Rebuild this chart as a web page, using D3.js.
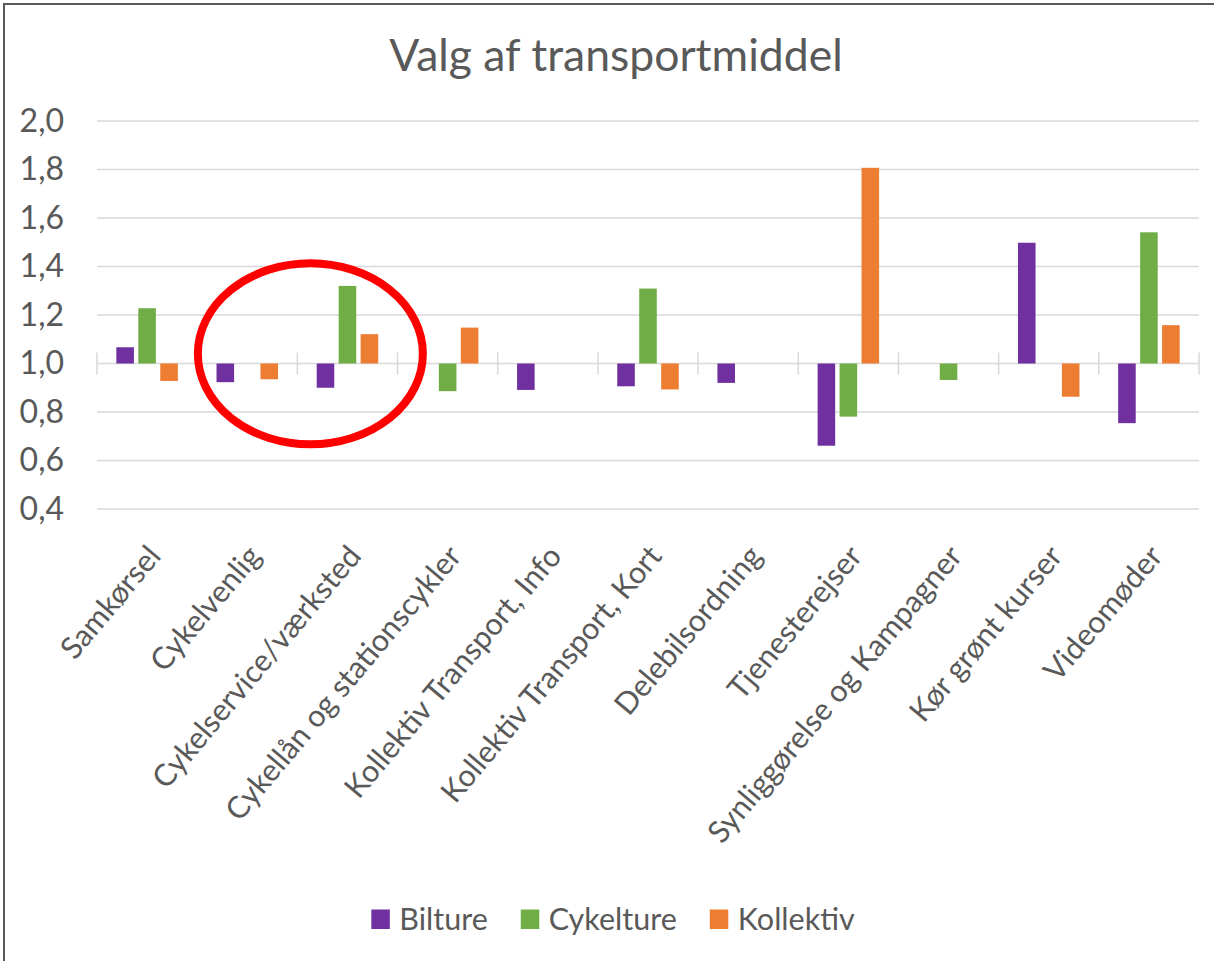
<!DOCTYPE html>
<html>
<head>
<meta charset="utf-8">
<script src="https://cdn.jsdelivr.net/npm/d3@7"></script>
<style>
  body { margin: 0; background: #fff; }
  text { font-family: Lato, "Open Sans", sans-serif; fill: #595959; }
</style>
</head>
<body>
<div id="chart"></div>
<script>
// data
const categories = ["Samkørsel", "Cykelvenlig", "Cykelservice/værksted", "Cykellån og stationscykler",
  "Kollektiv Transport, Info", "Kollektiv Transport, Kort", "Delebilsordning", "Tjenesterejser",
  "Synliggørelse og Kampagner", "Kør grønt kurser", "Videomøder"];
const series = ["Bilture", "Cykelture", "Kollektiv"];
const bilture   = [1.067, 0.923, 0.900, null, 0.891, 0.906, 0.920, 0.661, null, 1.498, 0.754];
const cykelture = [1.228, null, 1.320, 0.886, null, 1.309, null, 0.781, 0.932, null, 1.541];
const kollektiv = [0.928, 0.935, 1.121, 1.148, null, 0.893, null, 1.807, null, 0.863, 1.158];
const yTicks = [0.4, 0.6, 0.8, 1.0, 1.2, 1.4, 1.6, 1.8, 2.0];
const colors = ["#7030a0", "#70ad47", "#ed7d31"];
const baseValue = 1.0;

const width = 1214, height = 961;
const margin = {top: 121, right: 15, bottom: 452, left: 97};

const svg = d3.select("#chart").append("svg")
    .attr("width", width)
    .attr("height", height);

// chart border (only top / left visible in the crop)
svg.append("rect")
    .attr("x", 4).attr("y", 4)
    .attr("width", width + 20).attr("height", height + 20)
    .style("fill", "none")
    .style("stroke", "#595959")
    .style("stroke-width", 2);

svg.append("text")
    .attr("x", 616).attr("y", 71)
    .attr("text-anchor", "middle")
    .style("font-size", "44.5px")
    .text("Valg af transportmiddel");

let x0 = d3.scaleBand()
    .domain(categories)
    .range([margin.left, width - margin.right])
    .padding(0);

let x1 = d3.scaleBand()
    .domain(series)
    .range([0, x0.bandwidth()])
    .paddingInner(0.2)
    .paddingOuter(0.88);

let y = d3.scaleLinear()
    .domain([0.4, 2.0])
    .range([height - margin.bottom, margin.top]);

// gridlines
svg.append("g")
    .selectAll()
    .data(yTicks)
    .enter()
    .append("line")
    .attr("x1", margin.left)
    .attr("x2", width - margin.right)
    .attr("y1", d => y(d))
    .attr("y2", d => y(d))
    .style("stroke", "#d9d9d9")
    .style("stroke-width", 1.5);

// y tick labels
svg.append("g")
    .selectAll()
    .data(yTicks)
    .enter()
    .append("text")
    .attr("x", margin.left - 33)
    .attr("y", d => y(d))
    .attr("dy", "0.34em")
    .attr("text-anchor", "end")
    .style("font-size", "32px")
    .text(d => d3.format(".1f")(d).replace(".", ","));

// category tick marks on the 1,0 axis
let boundaries = categories.map(c => x0(c)).concat([x0.range()[1]]);
svg.append("g")
    .selectAll()
    .data(boundaries)
    .enter()
    .append("line")
    .attr("x1", d => d)
    .attr("x2", d => d)
    .attr("y1", y(baseValue) - 11)
    .attr("y2", y(baseValue) + 11)
    .style("stroke", "#d9d9d9")
    .style("stroke-width", 1.5);

// bars
let seriesValues = [bilture, cykelture, kollektiv];
series.forEach(function (name, si) {
    let rows = categories.map((c, i) => ({cat: c, v: seriesValues[si][i]})).filter(d => d.v !== null);
    svg.append("g")
        .selectAll()
        .data(rows)
        .enter()
        .append("rect")
        .attr("x", d => x0(d.cat) + x1(name))
        .attr("y", d => y(Math.max(d.v, baseValue)))
        .attr("width", x1.bandwidth())
        .attr("height", d => Math.abs(y(d.v) - y(baseValue)))
        .style("fill", colors[si]);
});

// x labels (the source picture is slightly stretched, so they sit at about 50 degrees)
svg.append("g")
    .selectAll()
    .data(categories)
    .enter()
    .append("text")
    .attr("transform", d => "translate(" + (x0(d) + x0.bandwidth() / 2 + 7) + "," + (y(0.4) + 41) + ") rotate(-50)")
    .attr("dy", "0.35em")
    .attr("text-anchor", "end")
    .style("font-size", "30.5px")
    .text(d => d);

// red circle annotation around Cykelvenlig / Cykelservice
svg.append("ellipse")
    .attr("cx", x0("Cykelservice/værksted") + 13)
    .attr("cy", y(1.04))
    .attr("rx", 112.5)
    .attr("ry", 90.5)
    .style("fill", "none")
    .style("stroke", "#ff0000")
    .style("stroke-width", 8);

// legend
let legend = svg.append("g");
let lx = 0;
series.forEach(function (name, i) {
    let item = legend.append("g").attr("transform", "translate(" + lx + ",0)");
    item.append("rect")
        .attr("x", 0).attr("y", -9.5)
        .attr("width", 18.5).attr("height", 19.5)
        .style("fill", colors[i]);
    let t = item.append("text")
        .attr("x", 28)
        .attr("dy", "0.35em")
        .style("font-size", "30.5px")
        .text(name);
    lx += 28 + t.node().getComputedTextLength() + 33;
});
let legendWidth = lx - 33;
legend.attr("transform", "translate(" + (613 - legendWidth / 2) + ",919)");
</script>
</body>
</html>
